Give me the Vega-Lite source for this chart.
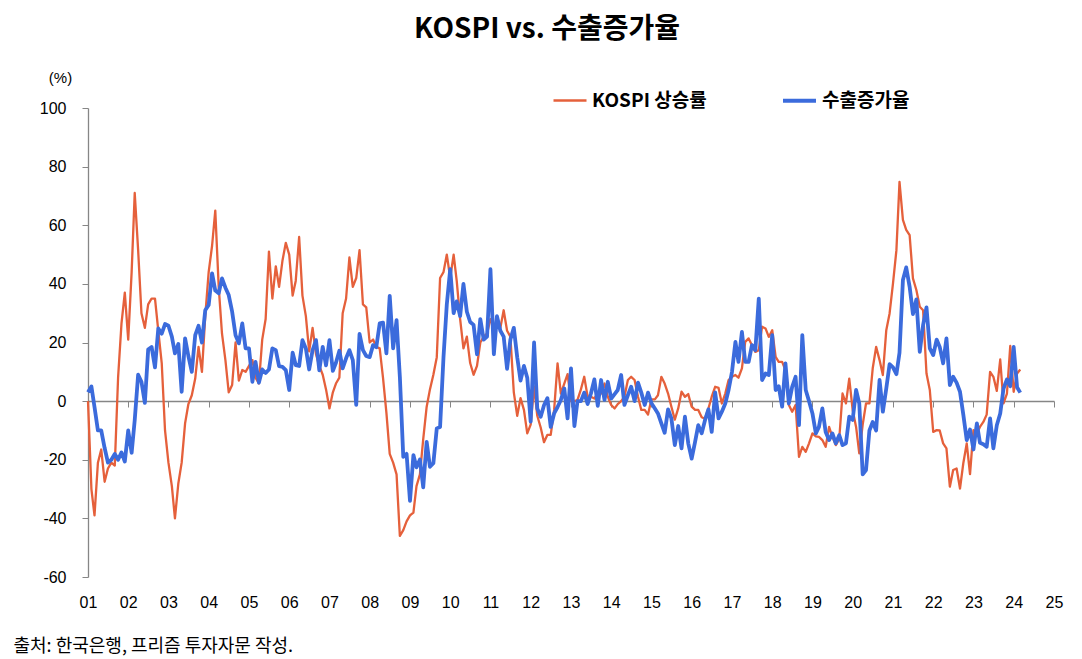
{
"$schema": "https://vega.github.io/schema/vega-lite/v6.json",
"width": 966, "height": 469,
"autosize": {"type": "none"},
"padding": {"left": 88, "top": 108, "right": 28, "bottom": 82},
"background": "white",
"title": {"text": "KOSPI vs. 수출증가율", "font": "Noto Sans CJK KR", "fontSize": 28, "fontWeight": "bold", "color": "black", "anchor": "middle", "dx": -24, "offset": 26},
"config": {"view": {"stroke": null}, "axis": {"grid": false}},
"data": {"values": [
{"d":"2001-01-01","a":0,"b":3},{"d":"2001-02-01","a":-30,"b":5},{"d":"2001-03-01","a":-39,"b":-2},{"d":"2001-04-01","a":-21,"b":-10},{"d":"2001-05-01","a":-16.5,"b":-10},{"d":"2001-06-01","a":-27.5,"b":-16},{"d":"2001-07-01","a":-23,"b":-21},{"d":"2001-08-01","a":-21,"b":-20},{"d":"2001-09-01","a":-22,"b":-18},{"d":"2001-10-01","a":8,"b":-20},{"d":"2001-11-01","a":26.5,"b":-17.5},{"d":"2001-12-01","a":37,"b":-20.6},
{"d":"2002-01-01","a":21,"b":-10},{"d":"2002-02-01","a":44,"b":-17.6},{"d":"2002-03-01","a":71,"b":-6.5},{"d":"2002-04-01","a":51.5,"b":9},{"d":"2002-05-01","a":30,"b":6.6},{"d":"2002-06-01","a":25,"b":-0.6},{"d":"2002-07-01","a":33,"b":17.6},{"d":"2002-08-01","a":35,"b":18.5},{"d":"2002-09-01","a":35,"b":11.5},{"d":"2002-10-01","a":24,"b":24.8},{"d":"2002-11-01","a":13,"b":23},{"d":"2002-12-01","a":-10,"b":26.3},
{"d":"2003-01-01","a":-21,"b":25.7},{"d":"2003-02-01","a":-29,"b":22},{"d":"2003-03-01","a":-40,"b":16.3},{"d":"2003-04-01","a":-28,"b":19.5},{"d":"2003-05-01","a":-21,"b":3.2},{"d":"2003-06-01","a":-7.6,"b":21.4},{"d":"2003-07-01","a":-1,"b":15.4},{"d":"2003-08-01","a":2,"b":10},{"d":"2003-09-01","a":7.7,"b":22.5},{"d":"2003-10-01","a":18.5,"b":25.7},{"d":"2003-11-01","a":10,"b":20},{"d":"2003-12-01","a":29,"b":31},
{"d":"2004-01-01","a":44,"b":32.8},{"d":"2004-02-01","a":53,"b":43.6},{"d":"2004-03-01","a":65,"b":37.7},{"d":"2004-04-01","a":39,"b":36.8},{"d":"2004-05-01","a":23,"b":41.9},{"d":"2004-06-01","a":14,"b":38.7},{"d":"2004-07-01","a":3,"b":36.2},{"d":"2004-08-01","a":5.5,"b":30.5},{"d":"2004-09-01","a":20,"b":22.5},{"d":"2004-10-01","a":7,"b":19.7},{"d":"2004-11-01","a":10.6,"b":26.5},{"d":"2004-12-01","a":10,"b":18},
{"d":"2005-01-01","a":12,"b":18},{"d":"2005-02-01","a":14,"b":6.6},{"d":"2005-03-01","a":8,"b":13.4},{"d":"2005-04-01","a":6,"b":6.3},{"d":"2005-05-01","a":21,"b":10.8},{"d":"2005-06-01","a":28,"b":9.6},{"d":"2005-07-01","a":51,"b":10.8},{"d":"2005-08-01","a":35,"b":18},{"d":"2005-09-01","a":46,"b":17.4},{"d":"2005-10-01","a":39,"b":11.9},{"d":"2005-11-01","a":48,"b":11.7},{"d":"2005-12-01","a":54,"b":10.6},
{"d":"2006-01-01","a":50,"b":3.8},{"d":"2006-02-01","a":36,"b":16.5},{"d":"2006-03-01","a":41,"b":12.3},{"d":"2006-04-01","a":56,"b":12},{"d":"2006-05-01","a":36,"b":20.8},{"d":"2006-06-01","a":29,"b":18},{"d":"2006-07-01","a":17,"b":10.8},{"d":"2006-08-01","a":25,"b":17.4},{"d":"2006-09-01","a":16,"b":20.8},{"d":"2006-10-01","a":12,"b":10.5},{"d":"2006-11-01","a":9,"b":18.5},{"d":"2006-12-01","a":4,"b":12.2},
{"d":"2007-01-01","a":-2.5,"b":20.8},{"d":"2007-02-01","a":3,"b":10.3},{"d":"2007-03-01","a":6,"b":13.1},{"d":"2007-04-01","a":8,"b":17.2},{"d":"2007-05-01","a":30,"b":11.2},{"d":"2007-06-01","a":35,"b":14.6},{"d":"2007-07-01","a":49,"b":17.4},{"d":"2007-08-01","a":39,"b":14},{"d":"2007-09-01","a":42,"b":-1.3},{"d":"2007-10-01","a":51.5,"b":22.9},{"d":"2007-11-01","a":33,"b":17.4},{"d":"2007-12-01","a":32,"b":15.4},
{"d":"2008-01-01","a":20,"b":15},{"d":"2008-02-01","a":21,"b":19.1},{"d":"2008-03-01","a":18.5,"b":18.4},{"d":"2008-04-01","a":18,"b":26.5},{"d":"2008-05-01","a":8,"b":26.8},{"d":"2008-06-01","a":-4,"b":16.3},{"d":"2008-07-01","a":-18,"b":35.9},{"d":"2008-08-01","a":-21,"b":18},{"d":"2008-09-01","a":-25,"b":27.6},{"d":"2008-10-01","a":-46,"b":8.3},{"d":"2008-11-01","a":-44,"b":-19},{"d":"2008-12-01","a":-41,"b":-18},
{"d":"2009-01-01","a":-39,"b":-34},{"d":"2009-02-01","a":-38,"b":-18.4},{"d":"2009-03-01","a":-29,"b":-22.6},{"d":"2009-04-01","a":-25,"b":-19.9},{"d":"2009-05-01","a":-13,"b":-29.4},{"d":"2009-06-01","a":-2,"b":-13.9},{"d":"2009-07-01","a":4,"b":-22.4},{"d":"2009-08-01","a":9,"b":-21.2},{"d":"2009-09-01","a":15,"b":-9.3},{"d":"2009-10-01","a":42,"b":-8.8},{"d":"2009-11-01","a":44,"b":15},{"d":"2009-12-01","a":50,"b":33},
{"d":"2010-01-01","a":42,"b":45},{"d":"2010-02-01","a":50,"b":30},{"d":"2010-03-01","a":41,"b":34},{"d":"2010-04-01","a":28,"b":29},{"d":"2010-05-01","a":18,"b":40},{"d":"2010-06-01","a":22,"b":30.5},{"d":"2010-07-01","a":13,"b":27},{"d":"2010-08-01","a":9,"b":26},{"d":"2010-09-01","a":12,"b":16},{"d":"2010-10-01","a":20,"b":28},{"d":"2010-11-01","a":22,"b":21},{"d":"2010-12-01","a":23,"b":22},
{"d":"2011-01-01","a":28,"b":45},{"d":"2011-02-01","a":25,"b":16},{"d":"2011-03-01","a":26,"b":29},{"d":"2011-04-01","a":25,"b":24},{"d":"2011-05-01","a":31,"b":22},{"d":"2011-06-01","a":24,"b":11},{"d":"2011-07-01","a":22,"b":21},{"d":"2011-08-01","a":3,"b":25},{"d":"2011-09-01","a":-5,"b":15},{"d":"2011-10-01","a":1,"b":7},{"d":"2011-11-01","a":-3,"b":12},{"d":"2011-12-01","a":-11,"b":8},
{"d":"2012-01-01","a":-8,"b":-7},{"d":"2012-02-01","a":5,"b":20},{"d":"2012-03-01","a":-5,"b":-2.5},{"d":"2012-04-01","a":-9,"b":-5.3},{"d":"2012-05-01","a":-14,"b":-1.4},{"d":"2012-06-01","a":-11.5,"b":1},{"d":"2012-07-01","a":-11.5,"b":-8.8},{"d":"2012-08-01","a":-3,"b":-4.2},{"d":"2012-09-01","a":12.9,"b":-2},{"d":"2012-10-01","a":2.6,"b":0.4},{"d":"2012-11-01","a":6,"b":4.3},{"d":"2012-12-01","a":9.2,"b":-5.9},
{"d":"2013-01-01","a":0,"b":11.2},{"d":"2013-02-01","a":0,"b":-8.5},{"d":"2013-03-01","a":0.4,"b":0},{"d":"2013-04-01","a":4,"b":0},{"d":"2013-05-01","a":8.3,"b":2.9},{"d":"2013-06-01","a":1.5,"b":-1},{"d":"2013-07-01","a":1.5,"b":2.6},{"d":"2013-08-01","a":0.9,"b":7.4},{"d":"2013-09-01","a":2.6,"b":-1.6},{"d":"2013-10-01","a":2.6,"b":7.2},{"d":"2013-11-01","a":6,"b":0.4},{"d":"2013-12-01","a":1.5,"b":6.6},
{"d":"2014-01-01","a":-1.3,"b":0.9},{"d":"2014-02-01","a":-2.5,"b":2.4},{"d":"2014-03-01","a":-1,"b":3.8},{"d":"2014-04-01","a":0,"b":8.9},{"d":"2014-05-01","a":1.5,"b":-1.3},{"d":"2014-06-01","a":7.2,"b":2},{"d":"2014-07-01","a":8.3,"b":4.9},{"d":"2014-08-01","a":7.2,"b":0},{"d":"2014-09-01","a":1.5,"b":6.3},{"d":"2014-10-01","a":-3,"b":2.9},{"d":"2014-11-01","a":-3,"b":-1.3},{"d":"2014-12-01","a":-4.6,"b":2.9},
{"d":"2015-01-01","a":0.6,"b":-0.7},{"d":"2015-02-01","a":0.6,"b":-2.5},{"d":"2015-03-01","a":2,"b":-4.2},{"d":"2015-04-01","a":8.3,"b":-7.6},{"d":"2015-05-01","a":6,"b":-10.8},{"d":"2015-06-01","a":2.6,"b":-2.8},{"d":"2015-07-01","a":-1.9,"b":-5.9},{"d":"2015-08-01","a":-6.3,"b":-15},{"d":"2015-09-01","a":-2.5,"b":-8.5},{"d":"2015-10-01","a":3.2,"b":-16.1},{"d":"2015-11-01","a":1.5,"b":-5.3},{"d":"2015-12-01","a":2.4,"b":-14.4},
{"d":"2016-01-01","a":-1.9,"b":-19.6},{"d":"2016-02-01","a":-3,"b":-13.9},{"d":"2016-03-01","a":-3,"b":-8.2},{"d":"2016-04-01","a":-5.5,"b":-11},{"d":"2016-05-01","a":-6,"b":-6.5},{"d":"2016-06-01","a":-2.5,"b":-2.8},{"d":"2016-07-01","a":1.5,"b":-10.5},{"d":"2016-08-01","a":4.9,"b":3},{"d":"2016-09-01","a":4.5,"b":-5.9},{"d":"2016-10-01","a":-0.8,"b":-3.6},{"d":"2016-11-01","a":2.6,"b":-0.8},{"d":"2016-12-01","a":7.2,"b":3.8},
{"d":"2017-01-01","a":8.3,"b":10},{"d":"2017-02-01","a":8.9,"b":20.2},{"d":"2017-03-01","a":8,"b":13.4},{"d":"2017-04-01","a":11.2,"b":23.6},{"d":"2017-05-01","a":20.2,"b":13.4},{"d":"2017-06-01","a":21.4,"b":13.4},{"d":"2017-07-01","a":19.1,"b":19.1},{"d":"2017-08-01","a":16.8,"b":17.4},{"d":"2017-09-01","a":17.4,"b":35},{"d":"2017-10-01","a":25.4,"b":7.2},{"d":"2017-11-01","a":24.8,"b":9.4},{"d":"2017-12-01","a":21.9,"b":8.9},
{"d":"2018-01-01","a":24.2,"b":22.5},{"d":"2018-02-01","a":15.1,"b":3.8},{"d":"2018-03-01","a":13.4,"b":5.1},{"d":"2018-04-01","a":13.4,"b":-1.9},{"d":"2018-05-01","a":10.6,"b":12.9},{"d":"2018-06-01","a":-1.3,"b":-0.8},{"d":"2018-07-01","a":-3.6,"b":4.9},{"d":"2018-08-01","a":-1.3,"b":8.3},{"d":"2018-09-01","a":-19,"b":-8.2},{"d":"2018-10-01","a":-15.6,"b":22.5},{"d":"2018-11-01","a":-17.3,"b":3.8},{"d":"2018-12-01","a":-14.4,"b":0},
{"d":"2019-01-01","a":-11,"b":-4.2},{"d":"2019-02-01","a":-12,"b":-11},{"d":"2019-03-01","a":-12.2,"b":-8.8},{"d":"2019-04-01","a":-13.3,"b":-2.5},{"d":"2019-05-01","a":-15.6,"b":-10.5},{"d":"2019-06-01","a":-8.8,"b":-13.3},{"d":"2019-07-01","a":-12.2,"b":-11},{"d":"2019-08-01","a":-15,"b":-14.4},{"d":"2019-09-01","a":-13,"b":-11.6},{"d":"2019-10-01","a":2.6,"b":-15},{"d":"2019-11-01","a":-0.8,"b":-14.4},{"d":"2019-12-01","a":7.7,"b":-5.3},
{"d":"2020-01-01","a":-3,"b":-6.4},{"d":"2020-02-01","a":-8.8,"b":3.8},{"d":"2020-03-01","a":-17.8,"b":-0.8},{"d":"2020-04-01","a":-8,"b":-25},{"d":"2020-05-01","a":-0.8,"b":-23.5},{"d":"2020-06-01","a":-0.8,"b":-10},{"d":"2020-07-01","a":11.2,"b":-7.1},{"d":"2020-08-01","a":18.5,"b":-10},{"d":"2020-09-01","a":14,"b":7.2},{"d":"2020-10-01","a":8.9,"b":-3.6},{"d":"2020-11-01","a":24.2,"b":4.3},{"d":"2020-12-01","a":29.9,"b":12.6},
{"d":"2021-01-01","a":40.2,"b":11.5},{"d":"2021-02-01","a":51.5,"b":9.2},{"d":"2021-03-01","a":74.8,"b":16.5},{"d":"2021-04-01","a":61.8,"b":41.3},{"d":"2021-05-01","a":58.4,"b":45.6},{"d":"2021-06-01","a":56.6,"b":39},{"d":"2021-07-01","a":41.9,"b":29.7},{"d":"2021-08-01","a":37.9,"b":34.7},{"d":"2021-09-01","a":32.2,"b":16.8},{"d":"2021-10-01","a":31,"b":25.9},{"d":"2021-11-01","a":9.4,"b":32},{"d":"2021-12-01","a":3.8,"b":18},
{"d":"2022-01-01","a":-10.5,"b":15.7},{"d":"2022-02-01","a":-9.9,"b":21},{"d":"2022-03-01","a":-10,"b":18.5},{"d":"2022-04-01","a":-14.4,"b":12.9},{"d":"2022-05-01","a":-16.1,"b":21.4},{"d":"2022-06-01","a":-29.2,"b":5.5},{"d":"2022-07-01","a":-23.5,"b":8.3},{"d":"2022-08-01","a":-23,"b":6.3},{"d":"2022-09-01","a":-29.8,"b":3.2},{"d":"2022-10-01","a":-21.2,"b":-4.6},{"d":"2022-11-01","a":-14.4,"b":-13.3},{"d":"2022-12-01","a":-24.9,"b":-9.7},
{"d":"2023-01-01","a":-9.9,"b":-16.5},{"d":"2023-02-01","a":-11,"b":-7.6},{"d":"2023-03-01","a":-8.8,"b":-14.2},{"d":"2023-04-01","a":-7.1,"b":-14.7},{"d":"2023-05-01","a":-4.6,"b":-15.6},{"d":"2023-06-01","a":10,"b":-5.9},{"d":"2023-07-01","a":8.3,"b":-16.1},{"d":"2023-08-01","a":3.5,"b":-8.2},{"d":"2023-09-01","a":14.2,"b":-4.2},{"d":"2023-10-01","a":-0.8,"b":4.3},{"d":"2023-11-01","a":2.6,"b":7.4},{"d":"2023-12-01","a":18.8,"b":5.1},
{"d":"2024-01-01","a":3.2,"b":18.5},{"d":"2024-02-01","a":9.4,"b":4.7},{"d":"2024-03-01","a":10.8,"b":2.9}
]},
"transform": [{"fold": ["a", "b"], "as": ["s", "v"]}],
"mark": {"type": "line", "strokeJoin": "round"},
"encoding": {
  "x": {"field": "d", "type": "temporal",
    "scale": {"type": "utc", "domain": [{"year": 2001, "month": 1, "date": 1, "utc": true}, {"year": 2025, "month": 1, "date": 1, "utc": true}]},
    "axis": {"title": "출처: 한국은행, 프리즘 투자자문 작성.", "titleX": -75, "titleY": 245, "titleAlign": "left", "titleBaseline": "middle", "titleFont": "Noto Sans CJK KR", "titleFontSize": 18, "titleFontWeight": "normal", "titleColor": "black",
      "offset": -176, "domainColor": "#868686", "domainWidth": 1.3, "tickColor": "#868686", "tickSize": 6, "labelPadding": 187,
      "labelFont": "Liberation Sans", "labelFontSize": 16, "labelColor": "black", "labelExpr": "utcFormat(datum.value, '%y')", "labelFlush": false, "labelOverlap": false,
      "values": [{"year":2001,"utc":true},{"year":2002,"utc":true},{"year":2003,"utc":true},{"year":2004,"utc":true},{"year":2005,"utc":true},{"year":2006,"utc":true},{"year":2007,"utc":true},{"year":2008,"utc":true},{"year":2009,"utc":true},{"year":2010,"utc":true},{"year":2011,"utc":true},{"year":2012,"utc":true},{"year":2013,"utc":true},{"year":2014,"utc":true},{"year":2015,"utc":true},{"year":2016,"utc":true},{"year":2017,"utc":true},{"year":2018,"utc":true},{"year":2019,"utc":true},{"year":2020,"utc":true},{"year":2021,"utc":true},{"year":2022,"utc":true},{"year":2023,"utc":true},{"year":2024,"utc":true},{"year":2025,"utc":true}]}},
  "y": {"field": "v", "type": "quantitative",
    "scale": {"domain": [-60, 100], "nice": false, "zero": false},
    "axis": {"title": "(%)", "titleAngle": 0, "titleX": -28, "titleY": -31, "titleAlign": "center", "titleBaseline": "middle", "titleFont": "Liberation Sans", "titleFontSize": 15, "titleFontWeight": "normal", "titleColor": "black",
      "values": [-60, -40, -20, 0, 20, 40, 60, 80, 100], "domainColor": "#868686", "domainWidth": 1.3, "tickColor": "#868686", "tickSize": 6, "labelPadding": 16,
      "labelExpr": "datum.value < 0 ? '-' + abs(datum.value) : '' + datum.value",
      "labelFont": "Liberation Sans", "labelFontSize": 16, "labelColor": "black"}},
  "color": {"field": "s", "type": "nominal",
    "scale": {"domain": ["a", "b"], "range": ["#E5603B", "#3B6BDC"]},
    "legend": {"title": null, "orient": "none", "legendX": 464, "legendY": -26, "direction": "horizontal", "symbolType": "stroke", "symbolSize": 1089,
      "labelFont": "Noto Sans CJK KR", "labelFontSize": 19, "labelFontWeight": "bold", "labelColor": "black", "labelOffset": 4, "columnPadding": 68, "padding": 0,
      "labelExpr": "datum.value == 'a' ? 'KOSPI 상승률' : '수출증가율'"}},
  "strokeWidth": {"field": "s", "type": "nominal", "scale": {"domain": ["a", "b"], "range": [2.3, 3.8]}}
}
}
